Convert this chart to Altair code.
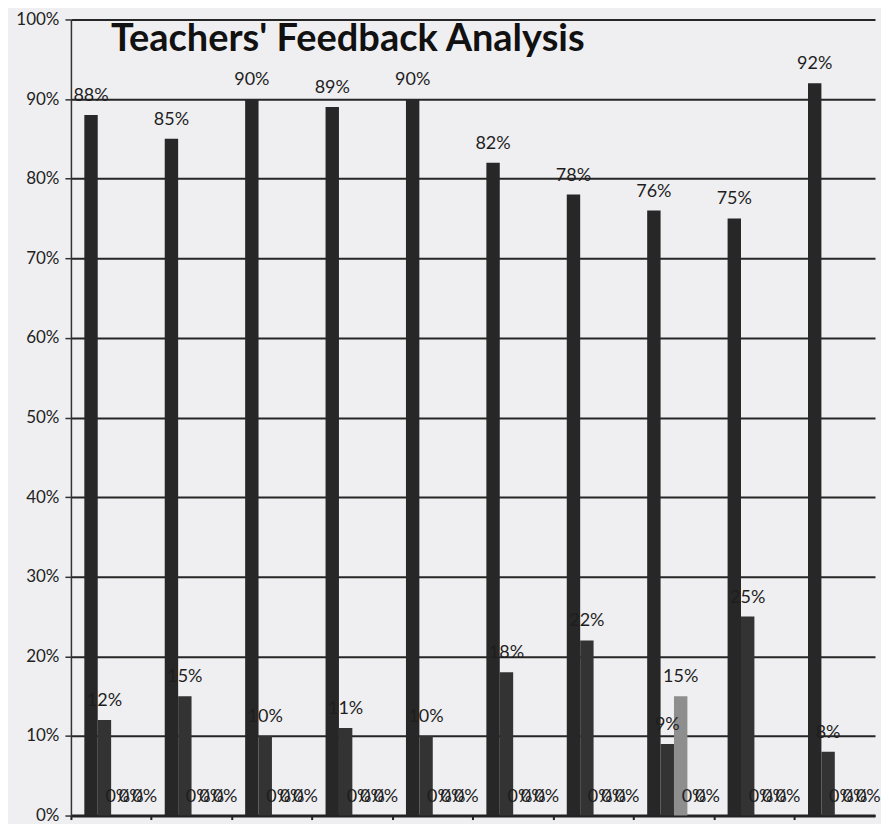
import altair as alt
import pandas as pd

groups = ["1", "2", "3", "4", "5", "6", "7", "8", "9", "10"]
series = ["Series 1", "Series 2", "Series 3", "Series 4", "Series 5"]
s1 = [0.88, 0.85, 0.90, 0.89, 0.90, 0.82, 0.78, 0.76, 0.75, 0.92]
s2 = [0.12, 0.15, 0.10, 0.11, 0.10, 0.18, 0.22, 0.09, 0.25, 0.08]
s3 = [0.00, 0.00, 0.00, 0.00, 0.00, 0.00, 0.00, 0.15, 0.00, 0.00]
s4 = [0.00, 0.00, 0.00, 0.00, 0.00, 0.00, 0.00, 0.00, 0.00, 0.00]
s5 = [0.00, 0.00, 0.00, 0.00, 0.00, 0.00, 0.00, 0.00, 0.00, 0.00]
colors = ["#272727", "#333333", "#8e8e8e", "#6a6a6a", "#4a4a4a"]
title_text = "Teachers' Feedback Analysis"

rows = []
for vals, name in zip([s1, s2, s3, s4, s5], series):
    for g, v in zip(groups, vals):
        rows.append({"group": g, "series": name, "value": v})
df = pd.DataFrame(rows)

x = alt.X("group:N", sort=groups,
          scale=alt.Scale(paddingInner=0, paddingOuter=0),
          axis=alt.Axis(title=None, labels=False, bandPosition=0, tickSize=4,
                        tickColor="#222", tickWidth=2, domainColor="#222",
                        domainWidth=3, grid=False))
xo = alt.XOffset("series:N", sort=series,
                 scale=alt.Scale(paddingInner=0, paddingOuter=0.5, align=1))
y = alt.Y("value:Q",
          scale=alt.Scale(domain=[0, 1]),
          axis=alt.Axis(title=None, format=".0%", values=[i / 10 for i in range(11)],
                        labelFont="Lato", labelFontSize=17, labelColor="#222",
                        labelPadding=6, tickSize=6, tickColor="#333", tickWidth=1.5,
                        domainColor="#333", domainWidth=1.5,
                        gridColor="#262626", gridWidth=2, gridOpacity=1))

base = alt.Chart(df)
bars = base.mark_bar().encode(
    x=x, xOffset=xo, y=y,
    color=alt.Color("series:N", sort=series,
                    scale=alt.Scale(domain=series, range=colors), legend=None),
)
labels = base.mark_text(dy=-19, font="Lato", fontSize=18, color="#1e1e1e").encode(
    x=x, xOffset=xo, y=y,
    text=alt.Text("value:Q", format=".0%"),
)
title = alt.Chart(pd.DataFrame({"t": [title_text]})).mark_text(
    font="Lato", fontSize=38, fontWeight="bold", color="#111", align="left",
    baseline="alphabetic",
).encode(x=alt.value(40), y=alt.value(32), text="t:N")

chart = alt.layer(bars, labels, title).properties(
    width=805, height=797,
    background="#efeff1",
    padding={"left": 7, "top": 2, "right": 0, "bottom": 0},
).configure_view(stroke=None, fill="#efeff1")

chart.save("out.html", embed_options={"renderer": "svg", "actions": False})
